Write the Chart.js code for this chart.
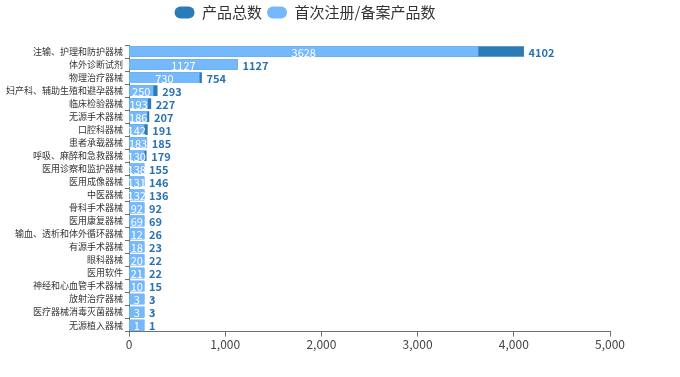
<!DOCTYPE html>
<html>
<head>
<meta charset="utf-8">
<script src="https://cdn.jsdelivr.net/npm/chart.js@4/dist/chart.umd.min.js"></script>
<style>
  html, body { margin: 0; padding: 0; background: #fff; }
</style>
</head>
<body>
<canvas id="barChart" width="680" height="377"></canvas>
<script>
// 分类
const categories = ['注输、护理和防护器械', '体外诊断试剂', '物理治疗器械', '妇产科、辅助生殖和避孕器械', '临床检验器械',
    '无源手术器械', '口腔科器械', '患者承载器械', '呼吸、麻醉和急救器械', '医用诊察和监护器械', '医用成像器械',
    '中医器械', '骨科手术器械', '医用康复器械', '输血、透析和体外循环器械', '有源手术器械', '眼科器械', '医用软件',
    '神经和心血管手术器械', '放射治疗器械', '医疗器械消毒灭菌器械', '无源植入器械'];

// 产品总数
const totalCounts = [4102, 1127, 754, 293, 227, 207, 191, 185, 179, 155, 146, 136, 92, 69, 26, 23, 22, 22, 15, 3, 3, 1];

// 首次注册/备案产品数
const firstCounts = [3628, 1127, 730, 250, 193, 186, 142, 183, 130, 138, 131, 132, 92, 69, 12, 18, 20, 21, 10, 3, 3, 1];

const xTicks = [0, 1000, 2000, 3000, 4000, 5000];

const cjkFont = '"Noto Sans CJK SC", "Noto Sans", sans-serif';

// 图例下方留白
const legendSpace = {
    id: 'legendSpace',
    beforeInit(chart) {
        const fit = chart.legend.fit;
        chart.legend.fit = function () {
            fit.bind(chart.legend)();
            this.height += 15;
        };
    }
};

// 数据标签
const labelPlugin = {
    id: 'barLabels',
    afterDatasetsDraw(chart) {
        const ctx = chart.ctx;
        const totalMeta = chart.getDatasetMeta(0);
        const firstMeta = chart.getDatasetMeta(1);
        ctx.save();
        ctx.textBaseline = 'middle';
        firstMeta.data.forEach((bar, i) => {
            ctx.font = '11px ' + cjkFont;
            ctx.fillStyle = '#ffffff';
            ctx.textAlign = 'center';
            ctx.fillText(String(firstCounts[i]), (bar.base + bar.x) / 2, bar.y + 1);
        });
        totalMeta.data.forEach((bar, i) => {
            ctx.font = 'bold 11px ' + cjkFont;
            ctx.fillStyle = '#2a72b0';
            ctx.textAlign = 'left';
            const end = Math.max(bar.x, firstMeta.data[i].x);
            ctx.fillText(String(totalCounts[i]), end + 5, bar.y + 1);
        });
        ctx.restore();
    }
};

const ctx = document.getElementById('barChart').getContext('2d');

const barChart = new Chart(ctx, {
    type: 'bar',
    data: {
        labels: categories,
        datasets: [{
            label: '产品总数',
            data: totalCounts,
            backgroundColor: '#2b7bb7',
            order: 1,
            grouped: false,
            barThickness: 10,
            minBarLength: 15
        }, {
            label: '首次注册/备案产品数',
            data: firstCounts,
            backgroundColor: '#75b8fc',
            order: 0,
            grouped: false,
            barThickness: 10,
            minBarLength: 15
        }]
    },
    options: {
        indexAxis: 'y',
        responsive: false,
        animation: false,
        layout: {
            padding: { top: 0, right: 70, bottom: 24, left: 0 }
        },
        plugins: {
            legend: {
                position: 'top',
                labels: {
                    font: { family: cjkFont, size: 15 },
                    color: '#333',
                    boxWidth: 20,
                    boxHeight: 12,
                    useBorderRadius: true,
                    borderRadius: 6,
                    padding: 5,
                    sort: (a, b) => a.datasetIndex - b.datasetIndex
                }
            },
            tooltip: { enabled: false }
        },
        scales: {
            x: {
                min: 0,
                max: 5000,
                afterBuildTicks: (axis) => { axis.ticks = xTicks.map(v => ({ value: v })); },
                grid: {
                    display: true,
                    drawOnChartArea: false,
                    drawTicks: true,
                    tickLength: 5,
                    color: '#6e7079'
                },
                border: { display: true, color: '#6e7079' },
                ticks: {
                    font: { family: cjkFont, size: 12 },
                    color: '#444',
                    padding: 1,
                    maxRotation: 0,
                    callback: (v) => v.toLocaleString('en-US')
                }
            },
            y: {
                afterFit: (axis) => { axis.width = 129; },
                grid: {
                    display: true,
                    offset: true,
                    drawOnChartArea: false,
                    drawTicks: true,
                    tickLength: 4,
                    color: '#6e7079'
                },
                border: { display: true, color: '#6e7079' },
                ticks: {
                    font: { family: cjkFont, size: 9 },
                    color: '#333',
                    padding: 2,
                    autoSkip: false
                }
            }
        }
    },
    plugins: [legendSpace, labelPlugin]
});
</script>
</body>
</html>
